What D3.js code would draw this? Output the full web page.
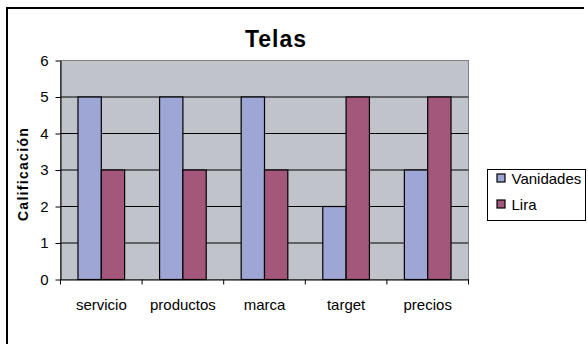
<!DOCTYPE html>
<html>
<head>
<meta charset="utf-8">
<script src="https://cdn.jsdelivr.net/npm/d3@7"></script>
<style>
	body { margin: 0; background: #fff; }
	svg text { font-family: "Liberation Sans", Arial, sans-serif; }
</style>
</head>
<body>
<script>
	const categories = ['servicio', 'productos', 'marca', 'target', 'precios'];
	const seriesNames = ['Vanidades', 'Lira'];
	const vanidades = [5, 5, 5, 2, 3];
	const lira = [3, 3, 3, 5, 5];
	const yTicks = [0, 1, 2, 3, 4, 5, 6];
	const colors = ['#9ea6d6', '#a3577b'];

	const svgSize = {'width': 588, 'height': 344};
	const plot = {'left': 60.5, 'right': 468.5, 'top': 60.5, 'bottom': 279.5};

	var svg = d3.select('body').append('svg')
		.attr('width', svgSize.width)
		.attr('height', svgSize.height);

	// outer frame
	svg.append('line')
		.attr('x1', 7).attr('y1', 8).attr('x2', 7).attr('y2', svgSize.height)
		.attr('stroke', '#000').attr('stroke-width', 2);
	svg.append('line')
		.attr('x1', 6).attr('y1', 8).attr('x2', 584).attr('y2', 8)
		.attr('stroke', '#000').attr('stroke-width', 2);

	var xScale = d3.scaleBand().domain(categories).range([plot.left, plot.right]);
	var yScale = d3.scaleLinear().domain([0, 6]).range([plot.bottom, plot.top]);

	// bar group layout: gap width 150%
	var barW = xScale.bandwidth() / 3.5;
	var x1 = d3.scaleBand().domain([0, 1]).range([barW * 0.75, barW * 2.75]);

	svg.append('rect')
		.attr('x', plot.left).attr('y', plot.top)
		.attr('width', plot.right - plot.left).attr('height', plot.bottom - plot.top)
		.attr('fill', '#c0c3ca').attr('stroke', '#808080').attr('stroke-width', 1);

	svg.append('g')
		.selectAll('line')
		.data(yTicks.slice(1, -1))
		.enter()
		.append('line')
		.attr('x1', plot.left).attr('x2', plot.right)
		.attr('y1', (d) => yScale(d)).attr('y2', (d) => yScale(d))
		.attr('stroke', '#000').attr('stroke-width', 1);

	var rows = categories.map((c, i) => [vanidades[i], lira[i]]);

	svg.append('g')
		.selectAll('g')
		.data(rows)
		.enter()
		.append('g')
		.attr('transform', (d, i) => `translate(${xScale(categories[i])}, 0)`)
		.selectAll('rect')
		.data((d) => d)
		.enter()
		.append('rect')
		.attr('x', (d, j) => x1(j))
		.attr('y', (d) => yScale(d))
		.attr('width', x1.bandwidth())
		.attr('height', (d) => plot.bottom - yScale(d))
		.attr('fill', (d, j) => colors[j])
		.attr('stroke', '#000')
		.attr('stroke-width', 1.2);

	var yAxis = svg.append('g')
		.attr('transform', `translate(${plot.left}, 0)`)
		.call(d3.axisLeft(yScale).tickValues(yTicks).tickFormat(d3.format('d')).tickSize(5).tickSizeOuter(0).tickPadding(7));
	yAxis.select('.domain').attr('stroke', '#000');
	yAxis.selectAll('text').style('font-size', '15px').attr('fill', '#000');

	var xAxis = svg.append('g')
		.attr('transform', `translate(0, ${plot.bottom})`)
		.call(d3.axisBottom(xScale).tickSize(0).tickPadding(20));
	xAxis.select('.domain').attr('stroke', '#000');
	xAxis.selectAll('text').style('font-size', '15px').attr('fill', '#000');

	// category separators
	svg.append('g')
		.selectAll('line')
		.data(categories.map((c) => xScale(c)).concat([plot.right]))
		.enter()
		.append('line')
		.attr('x1', (d) => d).attr('x2', (d) => d)
		.attr('y1', plot.bottom).attr('y2', plot.bottom + 5)
		.attr('stroke', '#000');

	svg.append('text')
		.attr('x', 276)
		.attr('y', 47)
		.style('text-anchor', 'middle')
		.style('font-size', '23px')
		.style('font-weight', 'bold')
		.style('letter-spacing', '1px')
		.text('Telas');

	svg.append('text')
		.attr('transform', 'rotate(-90)')
		.attr('x', -174)
		.attr('y', 28)
		.style('text-anchor', 'middle')
		.style('font-size', '14px')
		.style('font-weight', 'bold')
		.style('letter-spacing', '1.3px')
		.text('Calificación');

	// legend
	var legend = svg.append('g').attr('transform', 'translate(487.5, 169.5)');
	legend.append('rect')
		.attr('width', 98).attr('height', 51)
		.attr('fill', '#fff').attr('stroke', '#000').attr('stroke-width', 1);
	var items = legend.selectAll('g')
		.data(seriesNames)
		.enter()
		.append('g')
		.attr('transform', (d, i) => `translate(0, ${14 + i * 26})`);
	items.append('rect')
		.attr('x', 9.5).attr('y', -9.5)
		.attr('width', 8).attr('height', 8)
		.attr('fill', (d, i) => colors[i])
		.attr('stroke', '#000').attr('stroke-width', 1.2);
	items.append('text')
		.attr('x', 24).attr('y', 0)
		.style('font-size', '15px')
		.text((d) => d);
</script>
</body>
</html>
